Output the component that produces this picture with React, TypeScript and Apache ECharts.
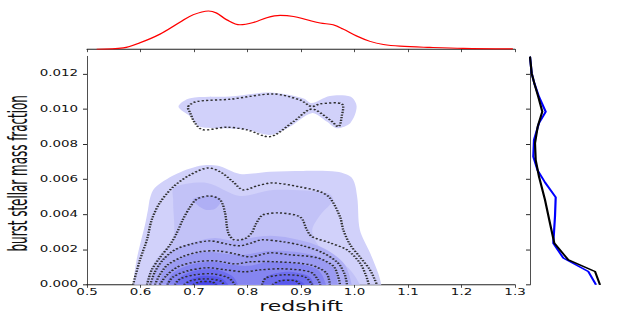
import React, { useEffect, useRef } from "react";
import * as echarts from "echarts";

// ---------- data ----------
// x ticks (redshift) and y ticks (burst stellar mass fraction)
const xTicks = [0.5, 0.6, 0.7, 0.8, 0.9, 1.0, 1.1, 1.2, 1.3];
const yTicks = [0, 0.002, 0.004, 0.006, 0.008, 0.01, 0.012];

// top marginal: redshift KDE
const topRedshift = [0.518, 0.568, 0.599, 0.636, 0.674, 0.699, 0.727, 0.742, 0.761, 0.786, 0.811, 0.836, 0.861, 0.886, 0.911, 0.936, 0.96, 0.979, 1.004, 1.029, 1.054, 1.085, 1.141, 1.203, 1.296];
const topDensity = [0.0, 0.1, 0.5, 1.17, 2.12, 2.71, 3.0, 2.84, 2.31, 1.91, 2.09, 2.47, 2.65, 2.57, 2.31, 2.05, 1.91, 1.57, 1.03, 0.61, 0.37, 0.24, 0.14, 0.06, 0.02];

// right marginal: burst fraction distributions
const sideFraction = [0.01298, 0.01203, 0.01147, 0.0107, 0.00985, 0.009, 0.00806, 0.0071, 0.00616, 0.00483, 0.0035, 0.00237, 0.00142, 0.00076, 0];
const sideBlack = [0, 8.5, 21.5, 41.5, 61.5, 38.5, 25, 28.5, 45, 75, 100, 121.5, 191.5, 325, 350];
const sideBlueFraction = [0.01298, 0.01203, 0.01147, 0.0107, 0.00985, 0.0092, 0.00825, 0.0073, 0.0065, 0.00583, 0.00498, 0.0039, 0.00237, 0.00152, 0.00076, 0];
const sideBlue = [0, 8.5, 21.5, 45, 78.5, 45, 20, 16.5, 38.5, 75, 128.5, 125, 116.5, 166.5, 291.5, 330];

// filled density contours: [redshift, fraction in units of 1e-3]
const fillLowest = [[0.586, 0], [0.592, 1.31], [0.599, 2.27], [0.608, 3.36], [0.614, 4.27], [0.618, 4.95], [0.627, 5.52], [0.664, 6.26], [0.711, 6.77], [0.745, 6.77], [0.786, 6.31], [0.842, 6.43], [0.904, 6.48], [0.967, 6.43], [0.995, 6.09], [1.005, 5.0], [1.01, 3.13], [1.029, 1.82], [1.044, 0.68], [1.05, 0]];
const fillIsland = [[0.671, 10.14], [0.693, 10.62], [0.767, 10.71], [0.842, 10.94], [0.904, 10.62], [0.92, 10.34], [0.954, 10.75], [0.992, 10.71], [1.004, 10.14], [0.992, 9.2], [0.967, 8.91], [0.948, 9.29], [0.92, 9.77], [0.879, 9.0], [0.842, 8.53], [0.799, 8.82], [0.755, 8.91], [0.711, 9.0], [0.693, 9.57]];
const fill2 = [[0.61, 0], [0.618, 0.85], [0.636, 1.71], [0.661, 2.56], [0.661, 4.83], [0.664, 5.57], [0.724, 5.8], [0.786, 5.06], [0.848, 5.4], [0.949, 5.23], [0.96, 4.83], [0.936, 3.98], [0.921, 3.13], [0.932, 2.27], [0.964, 1.54], [0.992, 0.85], [1.01, 0]];
const fill3Blob = [[0.698, 4.89], [0.721, 5.06], [0.745, 5.0], [0.75, 4.72], [0.739, 4.32], [0.721, 4.27], [0.706, 4.55]];
const fill3 = [[0.618, 0], [0.636, 1.31], [0.664, 1.99], [0.702, 2.45], [0.739, 2.67], [0.777, 2.5], [0.805, 2.67], [0.842, 2.79], [0.879, 2.67], [0.917, 2.39], [0.954, 1.88], [0.982, 1.14], [0.995, 0]];
const fill4 = [[0.633, 0], [0.648, 0.97], [0.678, 1.54], [0.721, 1.88], [0.764, 1.76], [0.795, 1.71], [0.838, 1.93], [0.889, 1.88], [0.932, 1.59], [0.96, 0.97], [0.969, 0]];
const fill5 = [[0.648, 0], [0.661, 0.68], [0.693, 1.14], [0.734, 1.31], [0.771, 1.14], [0.801, 1.08], [0.842, 1.31], [0.898, 1.19], [0.932, 0.85], [0.947, 0]];
const fill6Left = [[0.666, 0], [0.678, 0.51], [0.707, 0.85], [0.745, 0.85], [0.771, 0.51], [0.782, 0]];
const fill6Right = [[0.827, 0], [0.838, 0.51], [0.876, 0.74], [0.913, 0.51], [0.924, 0]];
const fill7Left = [[0.685, 0], [0.696, 0.34], [0.721, 0.51], [0.749, 0.4], [0.764, 0]];
const fill7Right = [[0.846, 0], [0.864, 0.28], [0.894, 0.28], [0.907, 0]];
const fill8Left = [[0.704, 0], [0.721, 0.23], [0.741, 0.11], [0.745, 0]];

// dotted contour lines: [redshift, fraction in units of 1e-3]
const dotIsland = [[0.689, 10.14], [0.705, 10.43], [0.767, 10.56], [0.848, 10.86], [0.898, 10.52], [0.92, 10.14], [0.936, 10.3], [0.976, 10.3], [0.976, 9.57], [0.97, 9.0], [0.954, 9.39], [0.92, 10.0], [0.886, 9.29], [0.842, 8.43], [0.799, 8.82], [0.761, 8.97], [0.717, 8.82], [0.702, 9.2], [0.693, 9.77]];
const dot1 = [[0.586, 0], [0.599, 1.42], [0.612, 2.56], [0.621, 3.7], [0.636, 4.66], [0.661, 5.57], [0.693, 6.26], [0.726, 6.65], [0.749, 6.43], [0.773, 5.86], [0.792, 5.4], [0.818, 5.63], [0.848, 5.8], [0.898, 5.57], [0.936, 5.29], [0.954, 4.95], [0.973, 3.87], [0.979, 3.13], [0.992, 2.27], [1.01, 1.59], [1.029, 0.85], [1.042, 0]];
const dot2 = [[0.612, 0], [0.621, 0.85], [0.636, 1.54], [0.655, 2.27], [0.668, 2.96], [0.679, 3.7], [0.693, 4.44], [0.706, 4.89], [0.73, 5.06], [0.749, 4.83], [0.758, 4.09], [0.764, 2.96], [0.775, 2.56], [0.795, 2.62], [0.808, 2.96], [0.816, 3.47], [0.829, 3.98], [0.861, 4.09], [0.898, 3.87], [0.911, 3.13], [0.921, 2.73], [0.954, 2.39], [0.986, 1.99], [1.01, 1.25], [1.021, 0.57], [1.027, 0]];
const dot3 = [[0.618, 0], [0.627, 0.74], [0.642, 1.42], [0.664, 1.99], [0.696, 2.33], [0.73, 2.5], [0.76, 2.33], [0.786, 2.22], [0.808, 2.39], [0.827, 2.56], [0.866, 2.45], [0.904, 2.22], [0.941, 1.82], [0.969, 1.25], [0.982, 0.57], [0.986, 0]];
const dot4 = [[0.627, 0], [0.636, 0.57], [0.651, 1.14], [0.678, 1.59], [0.711, 1.88], [0.745, 1.93], [0.777, 1.76], [0.805, 1.59], [0.842, 1.82], [0.879, 1.71], [0.93, 1.54], [0.96, 1.08], [0.969, 0.51], [0.973, 0]];
const dot5 = [[0.636, 0], [0.648, 0.51], [0.67, 1.02], [0.704, 1.31], [0.741, 1.36], [0.777, 1.19], [0.805, 1.31], [0.855, 1.31], [0.917, 1.14], [0.947, 0.68], [0.954, 0]];
const dot6 = [[0.65, 0], [0.661, 0.45], [0.689, 0.8], [0.726, 0.97], [0.76, 0.85], [0.795, 0.74], [0.823, 0.85], [0.866, 0.91], [0.917, 0.74], [0.932, 0.28], [0.936, 0]];
const dot7Left = [[0.664, 0], [0.674, 0.34], [0.702, 0.57], [0.734, 0.63], [0.764, 0.4], [0.777, 0]];
const dot7Right = [[0.827, 0], [0.835, 0.4], [0.87, 0.57], [0.907, 0.45], [0.921, 0]];
const dot8Left = [[0.681, 0], [0.693, 0.23], [0.721, 0.34], [0.749, 0.23], [0.756, 0]];
const dot8Right = [[0.846, 0], [0.861, 0.23], [0.889, 0.23], [0.898, 0]];
const dot9Left = [[0.698, 0], [0.711, 0.17], [0.734, 0.17], [0.741, 0]];

// ---------- styling ----------
const FILL_COLORS = ["#d1d1fa", "#c2c2f7", "#afaff5", "#9b9bf2", "#8585f0", "#6e6eee", "#5959ec", "#4646ea"];

const milli = (pts: number[][]) => pts.map(([z, m]) => [z, m / 1000]);

const FILLS = [
  { pts: fillLowest, level: 0 },
  { pts: fillIsland, level: 0 },
  { pts: fill2, level: 1 },
  { pts: fill3Blob, level: 2 },
  { pts: fill3, level: 2 },
  { pts: fill4, level: 3 },
  { pts: fill5, level: 4 },
  { pts: fill6Left, level: 5 },
  { pts: fill6Right, level: 5 },
  { pts: fill7Left, level: 6 },
  { pts: fill7Right, level: 6 },
  { pts: fill8Left, level: 7 },
].map((f) => ({ pts: milli(f.pts), color: FILL_COLORS[f.level] }));

const DOTS = [
  { pts: dotIsland, closed: true },
  { pts: dot1, closed: false },
  { pts: dot2, closed: false },
  { pts: dot3, closed: false },
  { pts: dot4, closed: false },
  { pts: dot5, closed: false },
  { pts: dot6, closed: false },
  { pts: dot7Left, closed: false },
  { pts: dot7Right, closed: false },
  { pts: dot8Left, closed: false },
  { pts: dot8Right, closed: false },
  { pts: dot9Left, closed: false },
].map((d) => ({ pts: milli(d.pts), closed: d.closed }));

// contours that touch the axis are closed just below it (clipped by the grid)
const closeBelowAxis = (pts: number[][]) => {
  const a = pts[0];
  const b = pts[pts.length - 1];
  if (a[1] === 0 && b[1] === 0) {
    return [...pts, [b[0], -0.0004], [a[0], -0.0004]];
  }
  return pts;
};

const W = 623;
const VIEW_H = 316;
const H = 527; // drawn taller, then squashed vertically like the reference
const FONT = "'DejaVu Sans', Verdana, sans-serif";
const Y_NAME = "burst stellar mass fraction";

function buildOption() {
  return {
    animation: false,
    backgroundColor: "#ffffff",
    grid: [
      { left: 87, top: 94, width: 428, height: 381, containLabel: false, outerBoundsMode: "none" },
      { left: 87, top: 14, width: 428, height: 68, containLabel: false, outerBoundsMode: "none" },
      { left: 530, top: 94, width: 80, height: 381, containLabel: false, outerBoundsMode: "none" },
    ],
    graphic: [
      {
        type: "text",
        x: 18,
        y: 289,
        rotation: Math.PI / 2,
        scaleX: 0.85,
        scaleY: 1,
        silent: true,
        style: {
          text: Y_NAME,
          font: "26px 'DejaVu Sans Condensed', 'Liberation Sans Narrow', 'DejaVu Sans', sans-serif",
          fill: "#111",
          align: "center",
          verticalAlign: "middle",
        },
      },
    ],
    xAxis: [
      {
        gridIndex: 0,
        type: "value",
        min: 0.5,
        max: 1.3,
        interval: 0.1,
        name: "redshift",
        nameLocation: "middle",
        nameGap: 24,
        nameTextStyle: { fontFamily: FONT, fontSize: 22, color: "#111" },
        axisLine: { show: true, onZero: false, lineStyle: { color: "#222", width: 1.6 } },
        axisTick: { show: true, length: 5, customValues: xTicks, lineStyle: { color: "#222", width: 1 } },
        axisLabel: {
          customValues: xTicks,
          formatter: (v: number) => v.toFixed(1),
          fontFamily: FONT,
          fontSize: 13.4,
          color: "#111",
          margin: 7,
        },
        splitLine: { show: false },
      },
      {
        gridIndex: 1,
        type: "value",
        min: 0.5,
        max: 1.3,
        interval: 0.1,
        axisLine: { show: true, onZero: false, lineStyle: { color: "#222", width: 1.6 } },
        axisTick: { show: true, length: 5, lineStyle: { color: "#222", width: 1 } },
        axisLabel: { show: false },
        splitLine: { show: false },
      },
      { gridIndex: 2, type: "value", min: 0, max: 400, show: false, splitLine: { show: false } },
    ],
    yAxis: [
      {
        gridIndex: 0,
        type: "value",
        min: 0,
        max: 0.013,
        interval: 0.002,
        axisLine: { show: true, onZero: false, lineStyle: { color: "#222", width: 1 } },
        axisTick: { show: true, length: 4, customValues: yTicks, lineStyle: { color: "#222", width: 1.6 } },
        axisLabel: {
          customValues: yTicks,
          formatter: (v: number) => v.toFixed(3),
          fontFamily: FONT,
          fontSize: 13.4,
          color: "#111",
          margin: 9,
        },
        splitLine: { show: false },
      },
      { gridIndex: 1, type: "value", min: 0, max: 3.2, show: false, splitLine: { show: false } },
      {
        gridIndex: 2,
        type: "value",
        min: 0,
        max: 0.013,
        interval: 0.002,
        axisLine: { show: true, onZero: false, lineStyle: { color: "#222", width: 1 } },
        axisTick: { show: true, length: 4, customValues: yTicks, lineStyle: { color: "#222", width: 1.6 } },
        axisLabel: { show: false },
        splitLine: { show: false },
      },
    ],
    series: [
      {
        type: "custom",
        xAxisIndex: 0,
        yAxisIndex: 0,
        clip: true,
        silent: true,
        data: FILLS.map((_, i) => [0.9, 0.005, i]),
        renderItem: (_params: any, api: any) => {
          const f = FILLS[api.value(2)];
          const pts = closeBelowAxis(f.pts).map((p) => api.coord(p));
          return {
            type: "polygon",
            shape: { points: pts, smooth: 0.3 },
            style: { fill: f.color, stroke: null },
          };
        },
      },
      {
        type: "custom",
        xAxisIndex: 0,
        yAxisIndex: 0,
        clip: true,
        silent: true,
        data: DOTS.map((_, i) => [0.9, 0.005, i]),
        renderItem: (_params: any, api: any) => {
          const d = DOTS[api.value(2)];
          const pts = d.pts.map((p) => api.coord(p));
          return {
            type: d.closed ? "polygon" : "polyline",
            shape: { points: pts, smooth: 0.3 },
            style: { fill: null, stroke: "#2e2e2e", lineWidth: 2.4, lineDash: [2.2, 2.2] },
          };
        },
      },
      {
        type: "line",
        xAxisIndex: 1,
        yAxisIndex: 1,
        data: topRedshift.map((z, i) => [z, topDensity[i]]),
        smooth: 0.35,
        showSymbol: false,
        symbol: "none",
        lineStyle: { color: "#ff0000", width: 1.8 },
      },
      {
        type: "line",
        xAxisIndex: 2,
        yAxisIndex: 2,
        data: sideBlue.map((v, i) => [v, sideBlueFraction[i]]),
        showSymbol: false,
        symbol: "none",
        lineStyle: { color: "#0000ff", width: 2.2 },
      },
      {
        type: "line",
        xAxisIndex: 2,
        yAxisIndex: 2,
        data: sideBlack.map((v, i) => [v, sideFraction[i]]),
        showSymbol: false,
        symbol: "none",
        lineStyle: { color: "#000000", width: 2.2 },
      },
    ],
  };
}

export default function App() {
  const ref = useRef<HTMLDivElement>(null);
  useEffect(() => {
    if (!ref.current) return;
    const chart = echarts.init(ref.current, null, { renderer: "svg" });
    chart.setOption(buildOption() as any);
    return () => chart.dispose();
  }, []);
  return (
    <div
      style={{
        position: "absolute",
        left: 0,
        top: 0,
        width: W,
        height: VIEW_H,
        overflow: "hidden",
        background: "#ffffff",
      }}
    >
      <div
        ref={ref}
        style={{ width: W, height: H, transform: `scaleY(${VIEW_H / H})`, transformOrigin: "0 0" }}
      />
    </div>
  );
}
